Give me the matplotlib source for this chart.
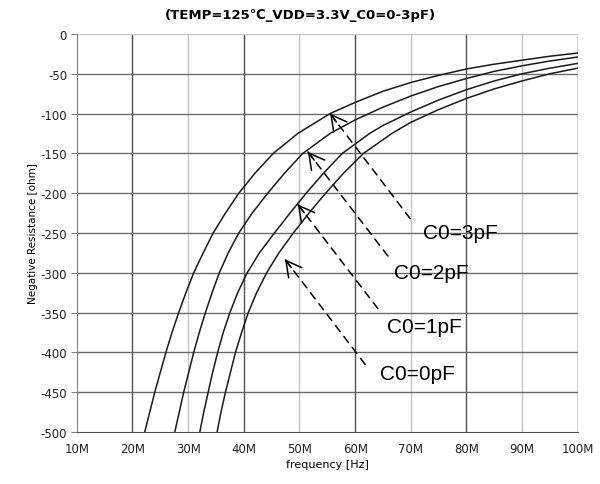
import matplotlib.pyplot as plt

plt.rcParams["axes.unicode_minus"] = False

# frequency [MHz], negative resistance [ohm]
f_3pf = [22.2, 23.1, 24.0, 25.0, 26.0, 27.1, 28.3, 29.6, 31.0, 32.7, 34.5, 36.7, 39.1,
         42.0, 45.3, 49.7, 55.5, 60, 65, 70, 75, 80, 85, 90, 95, 100]
r_3pf = [-500, -475, -450, -425, -400, -375, -350, -325, -300, -275, -250, -225, -200,
         -175, -150, -125, -100, -86, -72, -61, -52, -44, -38, -33, -28, -24]

f_2pf = [27.6, 28.4, 29.2, 30.1, 31.0, 32.0, 33.1, 34.3, 35.6, 37.2, 39.1, 41.5, 44.3,
         47.3, 50.6, 55.5, 60, 65, 70, 75, 80, 85, 90, 95, 100]
r_2pf = [-500, -475, -450, -425, -400, -375, -350, -325, -300, -275, -250, -225, -200,
         -175, -150, -125, -108, -92, -78, -66, -56, -47, -40, -34, -29]

f_1pf = [32.1, 32.8, 33.6, 34.4, 35.3, 36.3, 37.5, 38.9, 40.6, 42.8, 45.5, 48.3, 51.2,
         54.3, 57.7, 62.6, 65, 70, 75, 80, 85, 90, 95, 100]
r_1pf = [-500, -475, -450, -425, -400, -375, -350, -325, -300, -275, -250, -225, -200,
         -175, -150, -125, -115, -98, -83, -70, -59, -50, -43, -37]

f_0pf = [35.2, 35.9, 36.7, 37.6, 38.5, 39.6, 40.8, 42.3, 44.1, 46.3, 48.9, 51.7, 54.7,
         57.9, 61.5, 66.6, 70, 75, 80, 85, 90, 95, 100]
r_0pf = [-500, -475, -450, -425, -400, -375, -350, -325, -300, -275, -250, -225, -200,
         -175, -150, -125, -111, -95, -81, -69, -59, -50, -43]

labels = ["C0=3pF", "C0=2pF", "C0=1pF", "C0=0pF"]
tips = [(55.5, -100), (51.5, -148), (49.7, -214), (47.4, -283)]
tails = [(69.9, -232), (65.9, -279), (64.1, -345), (61.8, -415)]
label_pos = [(78.9, -249), (73.7, -299), (72.4, -367), (71.2, -427)]

xticks = [10, 20, 30, 40, 50, 60, 70, 80, 90, 100]
xticklabels = ["10M", "20M", "30M", "40M", "50M", "60M", "70M", "80M", "90M", "100M"]
yticks = [0, -50, -100, -150, -200, -250, -300, -350, -400, -450, -500]

fig = plt.figure(figsize=(6, 4.85), dpi=100)
ax = fig.add_axes([0.128, 0.107, 0.835, 0.821])

# grid: dark every 20M, light in between
for x in xticks[1:]:
    c = "#505050" if x % 20 == 0 else "#c4c4c4"
    ax.axvline(x, color=c, lw=1.0, zorder=0)
for y in yticks[1:-1]:
    ax.axhline(y, color="#6a6a6a", lw=1.0, zorder=0)
ax.axhline(0, color="#c4c4c4", lw=1.0, zorder=0)

for f, r in [(f_3pf, r_3pf), (f_2pf, r_2pf), (f_1pf, r_1pf), (f_0pf, r_0pf)]:
    ax.plot(f, r, color="#1a1a1a", lw=1.1)

for lab, tip, tail, pos in zip(labels, tips, tails, label_pos):
    ax.annotate("", xy=tip, xytext=tail,
                arrowprops=dict(arrowstyle="-", color="black", lw=1.1,
                                linestyle=(0, (5, 4)), shrinkA=0, shrinkB=0))
    # solid open head at the tip
    near = (tip[0] + 0.08 * (tail[0] - tip[0]), tip[1] + 0.08 * (tail[1] - tip[1]))
    ax.annotate("", xy=tip, xytext=near,
                arrowprops=dict(arrowstyle="->,head_length=1.1,head_width=0.6",
                                color="black", lw=1.1, mutation_scale=10,
                                shrinkA=0, shrinkB=0))
    ax.text(pos[0], pos[1], lab, fontsize=15, family="Liberation Sans",
            ha="center", va="center")

ax.set_xlim(10, 100)
ax.set_ylim(-500, 0)
ax.set_xticks(xticks)
ax.set_xticklabels(xticklabels)
ax.set_yticks(yticks)
ax.tick_params(axis="x", length=0, labelsize=8.5, pad=7, colors="#222")
ax.tick_params(axis="y", length=4, labelsize=8.5, pad=3, colors="#222")
ax.tick_params(axis="y", color="#808080")

for s in ["top", "right"]:
    ax.spines[s].set_visible(False)
ax.spines["left"].set_color("#808080")
ax.spines["bottom"].set_color("#505050")
ax.axvline(100, color="#c4c4c4", lw=1.0, zorder=0)

ax.set_xlabel("frequency [Hz]", fontsize=8, labelpad=3)
ax.set_ylabel("Negative Resistance [ohm]", fontsize=7.5, labelpad=2)

fig.text(0.5, 0.969, "(TEMP=125\u2103_VDD=3.3V_C0=0-3pF)", fontsize=9.5,
         fontweight="bold", ha="center", va="center",
         family=["DejaVu Sans", "Noto Sans CJK SC"])

fig.savefig("out.png", dpi=100)
